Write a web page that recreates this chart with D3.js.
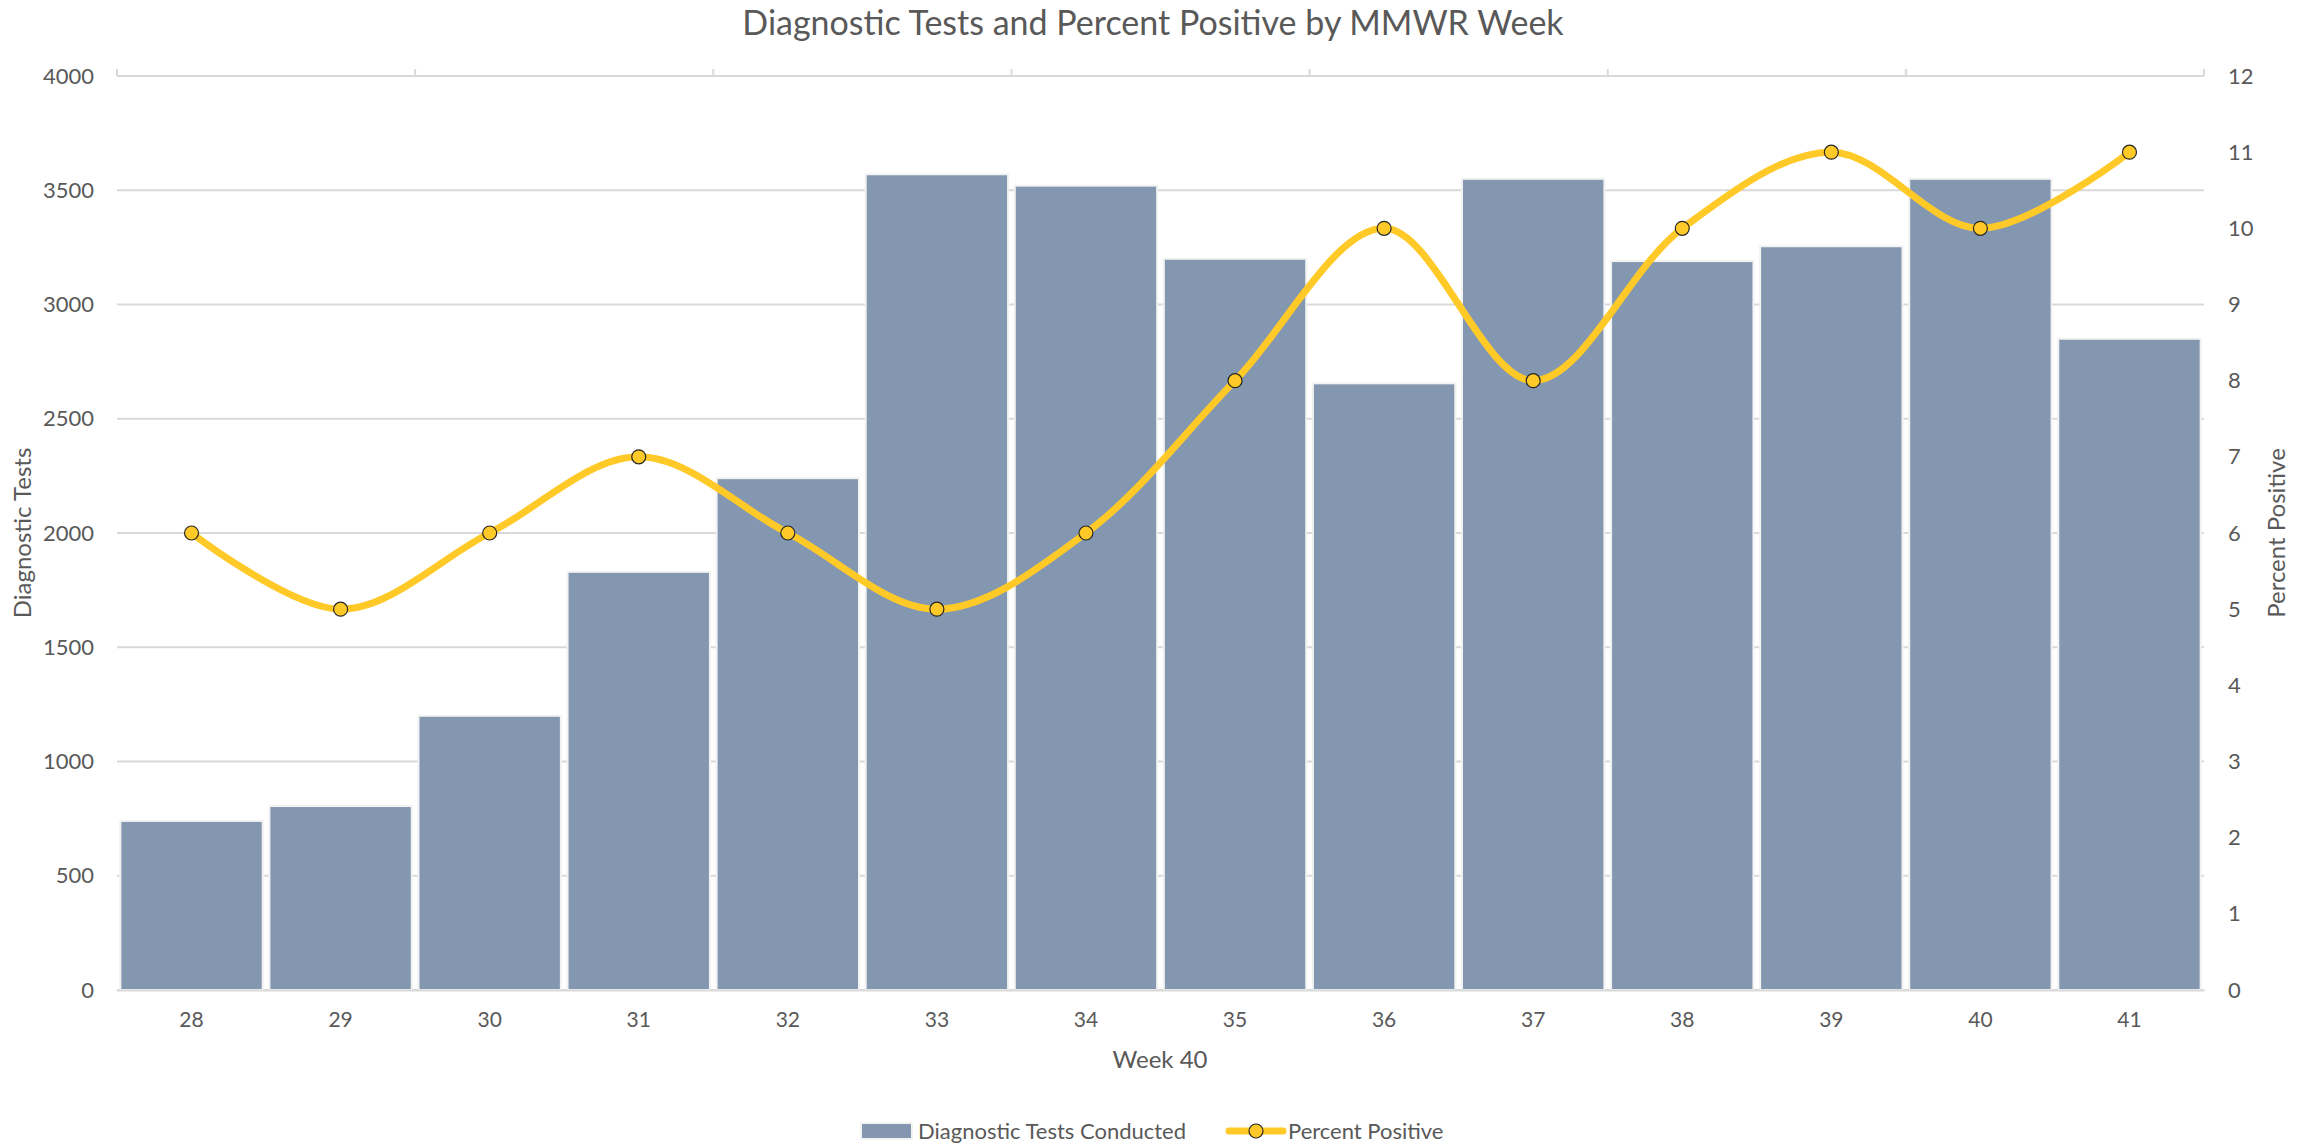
<!DOCTYPE html>
<html>
<head>
<meta charset="utf-8">
<script src="https://cdn.jsdelivr.net/npm/d3@7"></script>
<style>
    body { margin: 0; background: #fff; }
    text { font-family: Lato, "Open Sans", sans-serif; fill: #595959; }
</style>
</head>
<body>
<div id="chart"></div>
<script>
// data
let weeks = ['28', '29', '30', '31', '32', '33', '34', '35', '36', '37', '38', '39', '40', '41']
let testsConducted = [740, 805, 1200, 1830, 2240, 3570, 3520, 3200, 2655, 3550, 3190, 3255, 3550, 2850]
let percentPositive = [6, 5, 6, 7, 6, 5, 6, 8, 10, 8, 10, 11, 10, 11]
let leftTicks = [0, 500, 1000, 1500, 2000, 2500, 3000, 3500, 4000]
let rightTicks = [0, 1, 2, 3, 4, 5, 6, 7, 8, 9, 10, 11, 12]

let svgWidth = 2307
let svgHeight = 1143
let padding = { 'left': 117, 'right': 103, 'top': 76, 'bottom': 153 }

let barColor = '#8497b0'
let lineColor = '#ffca28'
let gridColor = '#d9d9d9'

let svg = d3.select('#chart').append('svg')
    .attr('width', svgWidth)
    .attr('height', svgHeight)

let x = d3.scaleBand()
    .domain(weeks)
    .range([padding.left, svgWidth - padding.right])
    .paddingInner(0.045)
    .paddingOuter(0.0225)

let y = d3.scaleLinear()
    .domain([0, 4000])
    .range([svgHeight - padding.bottom, padding.top])

let y2 = d3.scaleLinear()
    .domain([0, 12])
    .range([svgHeight - padding.bottom, padding.top])

// gridlines
svg.append('g')
    .selectAll('line')
    .data(leftTicks)
    .enter()
    .append('line')
    .attr('x1', padding.left)
    .attr('x2', svgWidth - padding.right)
    .attr('y1', d => y(d))
    .attr('y2', d => y(d))
    .attr('stroke', gridColor)
    .attr('stroke-width', 2)

// little ticks on the top edge, every second week boundary
let topTicks = d3.range(0, weeks.length + 1, 2)
let plotW = svgWidth - padding.left - padding.right
svg.append('g')
    .selectAll('line')
    .data(topTicks)
    .enter()
    .append('line')
    .attr('x1', d => padding.left + d * plotW / weeks.length)
    .attr('x2', d => padding.left + d * plotW / weeks.length)
    .attr('y1', padding.top)
    .attr('y2', padding.top - 7)
    .attr('stroke', gridColor)
    .attr('stroke-width', 2)

// bars
svg.append('g')
    .selectAll('rect')
    .data(testsConducted)
    .enter()
    .append('rect')
    .attr('x', (d, i) => x(weeks[i]))
    .attr('y', d => y(d))
    .attr('width', x.bandwidth())
    .attr('height', d => y(0) - y(d))
    .attr('fill', barColor)
    .attr('stroke', '#f2f2f2')
    .attr('stroke-width', 2)

// left axis
svg.append('g')
    .attr('transform', `translate(${padding.left}, 0)`)
    .call(d3.axisLeft(y).tickValues(leftTicks).tickFormat(d3.format('d')).tickSize(0).tickPadding(23))
    .call(g => g.select('.domain').remove())
    .selectAll('text')
    .attr('font-size', 22)
    .attr('font-family', 'Lato, sans-serif')
    .attr('fill', '#595959')

// right axis
svg.append('g')
    .attr('transform', `translate(${svgWidth - padding.right}, 0)`)
    .call(d3.axisRight(y2).tickValues(rightTicks).tickSize(0).tickPadding(24))
    .call(g => g.select('.domain').remove())
    .selectAll('text')
    .attr('font-size', 22)
    .attr('font-family', 'Lato, sans-serif')
    .attr('fill', '#595959')

// bottom axis
svg.append('g')
    .attr('transform', `translate(0, ${svgHeight - padding.bottom})`)
    .call(d3.axisBottom(x).tickSize(0).tickPadding(22))
    .call(g => g.select('.domain').attr('stroke', gridColor).attr('stroke-width', 2))
    .selectAll('text')
    .attr('font-size', 21)
    .attr('font-family', 'Lato, sans-serif')
    .attr('fill', '#595959')

// percent positive line
let line = d3.line()
    .x((d, i) => x(weeks[i]) + x.bandwidth() / 2)
    .y(d => y2(d))
    .curve(d3.curveCatmullRom.alpha(0.5))

svg.append('path')
    .datum(percentPositive)
    .attr('d', line)
    .attr('fill', 'none')
    .attr('stroke', lineColor)
    .attr('stroke-width', 7)
    .attr('stroke-linecap', 'round')

svg.append('g')
    .selectAll('circle')
    .data(percentPositive)
    .enter()
    .append('circle')
    .attr('cx', (d, i) => x(weeks[i]) + x.bandwidth() / 2)
    .attr('cy', d => y2(d))
    .attr('r', 7)
    .attr('fill', lineColor)
    .attr('stroke', '#262626')
    .attr('stroke-width', 1.2)

// titles
svg.append('text')
    .attr('x', 1153)
    .attr('y', 35)
    .attr('text-anchor', 'middle')
    .attr('font-size', 34)
    .text('Diagnostic Tests and Percent Positive by MMWR Week')

svg.append('text')
    .attr('x', 1160)
    .attr('y', 1068)
    .attr('text-anchor', 'middle')
    .attr('font-size', 24)
    .text('Week 40')

svg.append('text')
    .attr('transform', `translate(31, ${(padding.top + svgHeight - padding.bottom) / 2}) rotate(-90)`)
    .attr('text-anchor', 'middle')
    .attr('font-size', 24)
    .text('Diagnostic Tests')

svg.append('text')
    .attr('transform', `translate(2285, ${(padding.top + svgHeight - padding.bottom) / 2}) rotate(-90)`)
    .attr('text-anchor', 'middle')
    .attr('font-size', 24)
    .text('Percent Positive')

// legend
let legend = svg.append('g')
    .attr('transform', 'translate(0, 1131)')

legend.append('rect')
    .attr('x', 861)
    .attr('y', -8)
    .attr('width', 51)
    .attr('height', 16)
    .attr('fill', barColor)
    .attr('stroke', '#f2f2f2')
    .attr('stroke-width', 2)

legend.append('text')
    .attr('x', 918)
    .attr('y', 8)
    .attr('font-size', 22)
    .text('Diagnostic Tests Conducted')

legend.append('line')
    .attr('x1', 1229)
    .attr('x2', 1283)
    .attr('y1', 0)
    .attr('y2', 0)
    .attr('stroke', lineColor)
    .attr('stroke-width', 7)
    .attr('stroke-linecap', 'round')

legend.append('circle')
    .attr('cx', 1256)
    .attr('cy', 0)
    .attr('r', 7)
    .attr('fill', lineColor)
    .attr('stroke', '#262626')
    .attr('stroke-width', 1.2)

legend.append('text')
    .attr('x', 1288)
    .attr('y', 8)
    .attr('font-size', 22)
    .text('Percent Positive')
</script>
</body>
</html>
